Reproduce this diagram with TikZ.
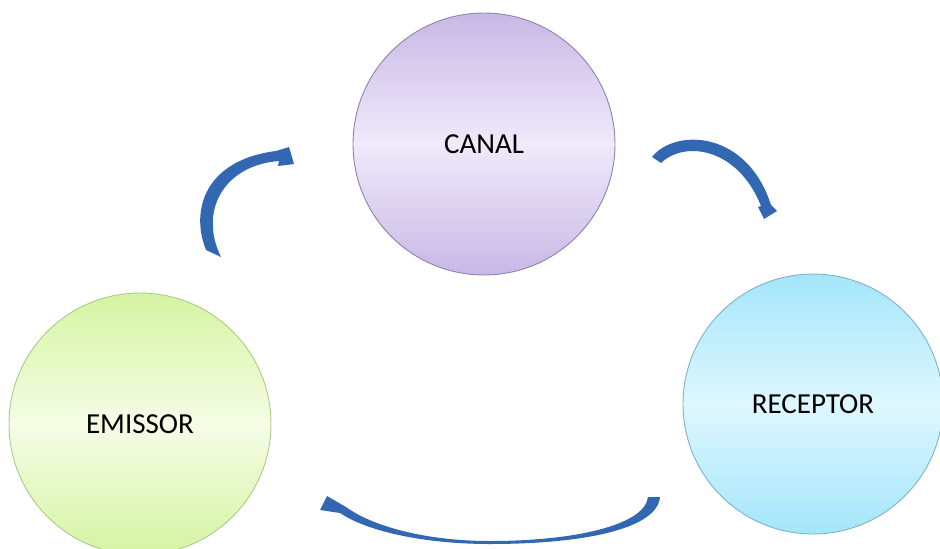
\documentclass[tikz,border=0pt]{standalone}
\usepackage{fontspec}
\setmainfont{Carlito}
\definecolor{canaldark}{RGB}{200,184,230}
\definecolor{canallight}{RGB}{240,234,250}
\definecolor{canaledge}{RGB}{142,128,170}
\definecolor{emissordark}{RGB}{214,244,162}
\definecolor{emissorlight}{RGB}{245,253,230}
\definecolor{emissoredge}{RGB}{168,204,136}
\definecolor{receptordark}{RGB}{164,230,250}
\definecolor{receptorlight}{RGB}{222,247,255}
\definecolor{receptoredge}{RGB}{126,178,200}
\definecolor{flowblue}{RGB}{50,104,178}
\tikzstyle{stage}=[circle, inner sep=0pt, minimum size=5.24cm, line width=0.5pt, font=\fontsize{16.5}{20}\selectfont]
\tikzstyle{flow}=[fill=flowblue]

\begin{document}
\begin{tikzpicture}[x=0.02cm, y=-0.02cm]
  \useasboundingbox (0,0) rectangle (940,548);
  \node[stage, draw=canaledge, top color=canaldark, bottom color=canaldark, middle color=canallight]
    (canal) at (484,144) {CANAL};
  \node[stage, draw=emissoredge, top color=emissordark, bottom color=emissordark, middle color=emissorlight]
    (emissor) at (140,424) {EMISSOR};
  \node[stage, minimum size=5.2cm, draw=receptoredge, top color=receptordark, bottom color=receptordark, middle color=receptorlight]
    (receptor) at (813,404) {RECEPTOR};
  % emissor -> canal
  \coordinate (ec tail) at (206,250);
  \coordinate (ec tip) at (294,164);
  \fill[flow] (ec tail) .. controls (190,210) and (205,160) .. (276,151)
    -- (289,147) -- (ec tip) -- (278,166) -- (279,161)
    .. controls (225,165) and (198,210) .. (221,257) -- cycle;
  % canal -> receptor
  \coordinate (cr tail) at (652,157);
  \coordinate (cr tip) at (764,219);
  \fill[flow] (cr tail) .. controls (675,128) and (747,130) .. (771,205)
    -- (777,211) -- (cr tip) -- (758,207) -- (761,206)
    .. controls (738,148) and (685,140) .. (661,163) -- cycle;
  % receptor -> emissor
  \coordinate (re tail) at (660,497);
  \coordinate (re tip) at (327,496);
  \fill[flow] (re tail) .. controls (657,530) and (580,544) .. (490,544)
    .. controls (420,544) and (365,530) .. (340,513)
    -- (320,510) -- (re tip) -- (346,507)
    .. controls (372,526) and (425,541) .. (490,541)
    .. controls (575,541) and (645,525) .. (648,497) -- cycle;
\end{tikzpicture}
\end{document}
